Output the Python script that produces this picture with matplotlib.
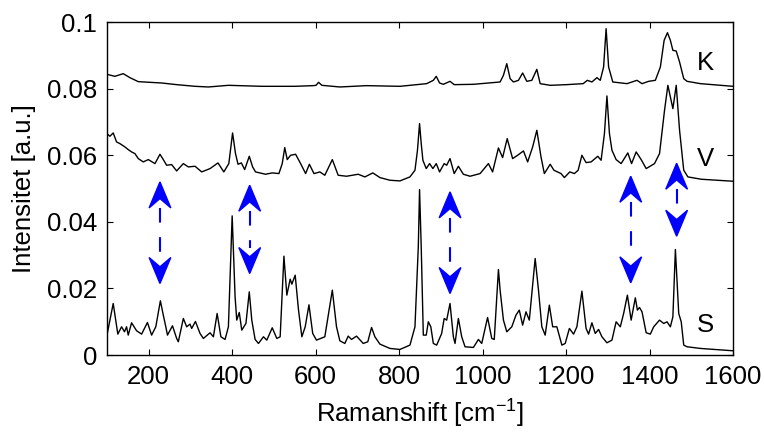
import matplotlib
matplotlib.use("Agg")
import matplotlib.pyplot as plt
from matplotlib.patches import Polygon

plt.rcParams['font.family'] = ['Liberation Sans', 'DejaVu Sans']
plt.rcParams['mathtext.fontset'] = 'custom'
plt.rcParams['mathtext.rm'] = 'Liberation Sans'

# Spectrum K (top)
k_x = [100, 119, 139, 155, 175, 231, 267, 311, 343, 391, 471, 550, 594, 601, 607, 615,
       658, 722, 802, 866, 882, 889, 897, 906, 922, 932, 978, 1042, 1050, 1058, 1066,
       1074, 1086, 1096, 1106, 1118, 1130, 1138, 1162, 1201, 1241, 1251, 1262, 1274,
       1282, 1290, 1296, 1302, 1312, 1346, 1370, 1382, 1398, 1414, 1426, 1435, 1443,
       1450, 1456, 1464, 1472, 1482, 1490, 1522, 1600]
k_y = [0.0843, 0.0837, 0.0845, 0.0833, 0.0821, 0.0817, 0.0812, 0.0807, 0.0805, 0.081,
       0.0807, 0.0807, 0.0809, 0.081, 0.0819, 0.081, 0.0805, 0.0809, 0.0807, 0.0815,
       0.0825, 0.0837, 0.0817, 0.0813, 0.0822, 0.0812, 0.0813, 0.082, 0.084, 0.0875,
       0.083, 0.082, 0.0825, 0.0847, 0.0822, 0.0825, 0.0858, 0.0815, 0.081, 0.0812,
       0.0815, 0.0825, 0.082, 0.0833, 0.0825, 0.0865, 0.098, 0.0865, 0.082, 0.0815,
       0.0825, 0.0815, 0.0822, 0.0825, 0.0865, 0.0945, 0.0968, 0.0945, 0.0915, 0.0913,
       0.088, 0.083, 0.0822, 0.0815, 0.0807]

# Spectrum V (middle)
v_x = [100, 107, 115, 123, 131, 143, 151, 159, 167, 175, 187, 199, 215, 227, 235, 243,
       255, 267, 283, 295, 311, 327, 347, 366, 380, 392, 401, 408, 414, 422, 430, 441,
       449, 456, 480, 496, 512, 520, 526, 532, 540, 552, 564, 576, 585, 596, 602, 610,
       622, 640, 654, 674, 702, 718, 737, 754, 778, 802, 826, 838, 844, 849, 853, 857,
       865, 873, 881, 889, 897, 908, 914, 922, 932, 942, 954, 970, 994, 1014, 1024,
       1038, 1048, 1059, 1072, 1084, 1098, 1108, 1120, 1130, 1140, 1148, 1162, 1171,
       1188, 1196, 1209, 1220, 1229, 1238, 1248, 1260, 1276, 1284, 1292, 1298, 1304,
       1310, 1320, 1332, 1348, 1357, 1368, 1380, 1392, 1412, 1424, 1436, 1444, 1450,
       1456, 1464, 1472, 1482, 1492, 1524, 1600]
v_y = [0.0665, 0.0657, 0.0667, 0.064, 0.0635, 0.0625, 0.0617, 0.061, 0.0605, 0.059,
       0.058, 0.0587, 0.0575, 0.0603, 0.0587, 0.057, 0.0572, 0.0553, 0.0575, 0.0565,
       0.0567, 0.055, 0.056, 0.0577, 0.055, 0.0575, 0.0667, 0.0605, 0.0573, 0.0577,
       0.0557, 0.0597, 0.0565, 0.055, 0.0543, 0.0547, 0.0545, 0.0575, 0.0623, 0.0587,
       0.06, 0.0603, 0.0575, 0.0545, 0.0573, 0.0545, 0.0547, 0.055, 0.054, 0.0587,
       0.054, 0.0537, 0.0543, 0.0535, 0.0547, 0.0533, 0.0525, 0.0523, 0.0535, 0.0555,
       0.0615, 0.0695, 0.0635, 0.0585, 0.056, 0.0575, 0.056, 0.0575, 0.055, 0.0575,
       0.057, 0.059, 0.0545, 0.0567, 0.0543, 0.0537, 0.0545, 0.0575, 0.055, 0.0622,
       0.0593, 0.065, 0.059, 0.06, 0.0613, 0.058, 0.0625, 0.0675, 0.0595, 0.0545,
       0.0573, 0.0555, 0.0545, 0.0533, 0.055, 0.0545, 0.0555, 0.06, 0.0578, 0.058,
       0.0597, 0.0585, 0.0665, 0.0778, 0.0665, 0.0615, 0.0587, 0.0575, 0.0607, 0.0575,
       0.061, 0.0587, 0.056, 0.0575, 0.0605, 0.0735, 0.081, 0.0775, 0.074, 0.081,
       0.0675, 0.0555, 0.0535, 0.0528, 0.0522]

# Spectrum S (bottom)
s_x = [100, 115, 126, 135, 142, 147, 151, 159, 171, 183, 197, 207, 217, 228, 235, 241,
       245, 257, 267, 271, 283, 291, 299, 303, 312, 323, 331, 347, 355, 364, 373, 383,
       391, 400, 407, 411, 417, 423, 433, 441, 447, 455, 463, 475, 483, 496, 507, 515,
       524, 531, 539, 543, 551, 559, 567, 575, 584, 593, 602, 622, 640, 650, 658, 670,
       678, 686, 698, 714, 725, 734, 742, 754, 778, 802, 826, 838, 846, 849, 853, 858,
       865, 870, 876, 882, 890, 902, 908, 914, 922, 930, 934, 942, 950, 958, 978, 990,
       998, 1012, 1022, 1028, 1038, 1042, 1050, 1058, 1070, 1080, 1088, 1096, 1104,
       1112, 1126, 1134, 1142, 1150, 1160, 1168, 1178, 1190, 1198, 1208, 1218, 1226,
       1238, 1248, 1254, 1262, 1270, 1278, 1286, 1298, 1310, 1320, 1330, 1338, 1347,
       1356, 1366, 1371, 1376, 1382, 1392, 1402, 1410, 1424, 1434, 1442, 1450, 1456,
       1462, 1470, 1476, 1482, 1490, 1522, 1600]
s_y = [0.006, 0.0155, 0.0063, 0.0085, 0.007, 0.0085, 0.006, 0.0097, 0.0073, 0.0063,
       0.0098, 0.006, 0.0085, 0.0163, 0.012, 0.0085, 0.006, 0.0088, 0.005, 0.004,
       0.011, 0.0085, 0.0093, 0.008, 0.0101, 0.0065, 0.005, 0.0067, 0.0055, 0.0125,
       0.0055, 0.0047, 0.0085, 0.0418, 0.0175, 0.0105, 0.0128, 0.0075, 0.0095, 0.019,
       0.0105, 0.0047, 0.0035, 0.0055, 0.0045, 0.0082, 0.005, 0.0055, 0.0297, 0.018,
       0.0228, 0.0213, 0.024, 0.0135, 0.0055, 0.0085, 0.0151, 0.0065, 0.0045, 0.0055,
       0.0195, 0.0085, 0.0043, 0.0035, 0.0057, 0.0047, 0.0057, 0.0035, 0.004, 0.0083,
       0.0055, 0.0033, 0.002, 0.0017, 0.003, 0.0085, 0.0325, 0.0497, 0.0325, 0.006,
       0.006, 0.01, 0.0085, 0.0035, 0.003, 0.0065, 0.011, 0.0105, 0.0155, 0.0055,
       0.0035, 0.011, 0.0055, 0.0025, 0.0023, 0.0047, 0.0035, 0.0113, 0.005, 0.0047,
       0.0257, 0.0195, 0.0105, 0.007, 0.0085, 0.012, 0.0135, 0.009, 0.013, 0.0105,
       0.029, 0.0195, 0.0085, 0.006, 0.015, 0.0085, 0.0085, 0.003, 0.0035, 0.008,
       0.0063, 0.0085, 0.0192, 0.008, 0.0063, 0.0097, 0.0065, 0.0077, 0.0055, 0.0037,
       0.0045, 0.01, 0.0085, 0.0125, 0.018, 0.0105, 0.0172, 0.0135, 0.0143, 0.013,
       0.0067, 0.0063, 0.0085, 0.0105, 0.0095, 0.01, 0.0085, 0.0115, 0.0317, 0.0125,
       0.01, 0.003, 0.0025, 0.002, 0.0013]

# series labels and their y positions
names = ['K', 'V', 'S']
name_y = [0.0876, 0.059, 0.009]

# double arrows: x, top tip, bottom tip
arrow_x = [227, 442, 922, 1355, 1465]
arrow_top = [0.052, 0.051, 0.049, 0.0537, 0.0576]
arrow_bot = [0.0215, 0.0245, 0.0185, 0.0217, 0.0357]

xticks = [200, 400, 600, 800, 1000, 1200, 1400, 1600]
yticks = [0, 0.02, 0.04, 0.06, 0.08, 0.1]
ytick_labels = ['0', '0.02', '0.04', '0.06', '0.08', '0.1']

fig = plt.figure(figsize=(7.64, 4.32), dpi=100)
ax = fig.add_axes([0.140, 0.178, 0.8194, 0.771])

for xs, ys in [(k_x, k_y), (v_x, v_y), (s_x, s_y)]:
    ax.plot(xs, ys, color='black', lw=1.0)

ax.set_xlim(100, 1600)
ax.set_ylim(0, 0.1)

# arrow head size in data units
hw = 26.0      # half width (x)
hl = 0.0078    # head length (y)
notch = 0.0028
blue = (0, 0, 1)
for x, yt, yb in zip(arrow_x, arrow_top, arrow_bot):
    ax.plot([x, x], [yt - hl, yb + hl], color=blue, lw=1.5, dashes=(7, 7), zorder=3)
    top = Polygon([(x, yt), (x + hw, yt - hl), (x, yt - hl + notch), (x - hw, yt - hl)],
                  closed=True, color=blue, zorder=4)
    bot = Polygon([(x, yb), (x + hw, yb + hl), (x, yb + hl - notch), (x - hw, yb + hl)],
                  closed=True, color=blue, zorder=4)
    ax.add_patch(top)
    ax.add_patch(bot)

for n, y in zip(names, name_y):
    ax.text(1535, y, n, fontsize=18.5, ha='center', va='center')

ax.set_xticks(xticks)
ax.set_yticks(yticks)
ax.set_yticklabels(ytick_labels)
ax.tick_params(direction='in', length=4.5, width=0.8, top=True, right=True,
               labelsize=18.5, pad=7)
for sp in ax.spines.values():
    sp.set_linewidth(1.0)

ax.set_xlabel('Ramanshift [cm$^{-1}$]', fontsize=18.5, labelpad=5)
ax.set_ylabel('Intensitet [a.u.]', fontsize=18.5, labelpad=8)

fig.savefig('out.png', dpi=100)
